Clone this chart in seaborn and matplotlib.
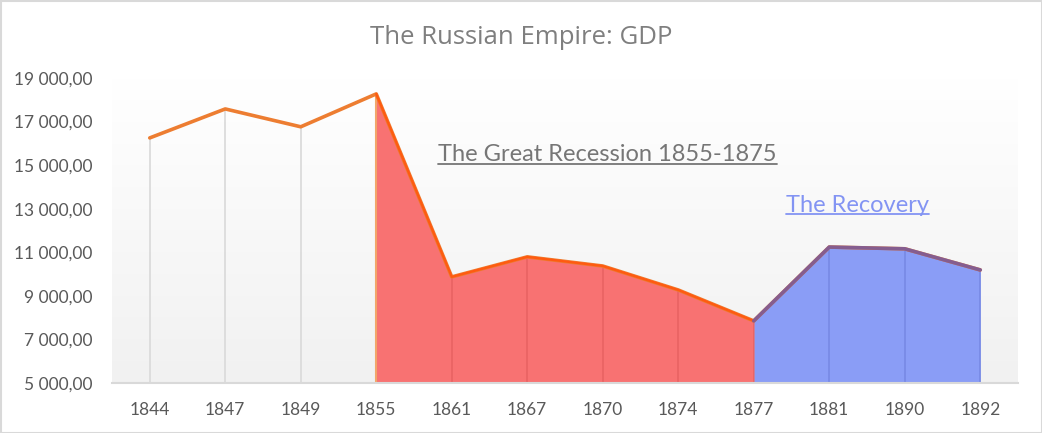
import numpy as np
import pandas as pd
import matplotlib
matplotlib.use("Agg")
import matplotlib.pyplot as plt
from matplotlib.colors import LinearSegmentedColormap
from matplotlib.lines import Line2D
from matplotlib.patches import Rectangle
import seaborn as sns

# ---- data ----
years = ["1844", "1847", "1849", "1855", "1861", "1867", "1870", "1874", "1877", "1881", "1890", "1892"]
gdp = [16250, 17580, 16760, 18270, 9870, 10790, 10370, 9270, 7850, 11240, 11160, 10190]
recession_span = ["1855", "1877"]
recovery_span = ["1877", "1892"]
y_ticks = [5000, 7000, 9000, 11000, 13000, 15000, 17000, 19000]
title = "The Russian Empire: GDP"
recession_label = "The Great Recession 1855-1875"
recovery_label = "The Recovery"

df = pd.DataFrame({"year": years, "gdp": gdp})
df["pos"] = np.arange(len(df))

sns.set_theme(style="white")
plt.rcParams["font.family"] = ["Lato", "DejaVu Sans"]

fig = plt.figure(figsize=(10.42, 4.33), dpi=100)
ax = fig.add_axes([112 / 1042, 1 - 383 / 433, (1018 - 112) / 1042, (383 - 78) / 433])

ymin, ymax = 5000, 19000
xmin, xmax = -0.5, len(years) - 0.5

# gradient background
cmap = LinearSegmentedColormap.from_list("bg", ["#ffffff", "#f1f1f1"])
grad = np.linspace(0, 1, 256)[:, None]
ax.imshow(grad, extent=[xmin, xmax, ymin, ymax], aspect="auto", cmap=cmap, zorder=0,
          origin="upper")

red_fill = "#f87272"
blue_fill = "#8a9df6"
orange = "#ed7d31"

def seg(span):
    i0, i1 = years.index(span[0]), years.index(span[1])
    return df.iloc[i0:i1 + 1]

rec = seg(recession_span)
recv = seg(recovery_span)

# drop lines
for _, r in df.iterrows():
    p = r["pos"]
    if p < rec["pos"].iloc[0]:
        c, a = "#d9d9d9", 1.0
    elif p <= rec["pos"].iloc[-1] and p > rec["pos"].iloc[0]:
        c, a = "#e05a5a", 0.6
    elif p == rec["pos"].iloc[0]:
        c, a = "#f2a66a", 1.0
    else:
        c, a = "#7284e0", 0.8
    ax.plot([p, p], [ymin, r["gdp"]], color=c, lw=1.2, alpha=a, zorder=2)

ax.fill_between(rec["pos"], ymin, rec["gdp"], color=red_fill, lw=0, zorder=1.5)
ax.fill_between(recv["pos"], ymin, recv["gdp"], color=blue_fill, lw=0, zorder=1.6)
ax.plot([rec["pos"].iloc[0]] * 2, [ymin, rec["gdp"].iloc[0]], color="#f2a66a", lw=1.5, zorder=2.5)

sns.lineplot(data=df, x="pos", y="gdp", color=orange, lw=2.6, ax=ax, zorder=3,
             sort=False, legend=False)
ax.plot(rec["pos"], rec["gdp"], color="#ff5a10", lw=1.6, zorder=3.2)
ax.plot(recv["pos"], recv["gdp"], color="#7a5a9a", lw=2.6, zorder=3.3, alpha=0.9)

ax.set_xlim(xmin, xmax)
ax.set_ylim(ymin, ymax)
ax.set_xticks(df["pos"])
ax.set_xticklabels(years)
ax.set_yticks(y_ticks)
ax.set_yticklabels([f"{v:,.2f}".replace(",", " ").replace(".", ",") for v in y_ticks])
ax.tick_params(axis="both", length=0, labelsize=12.5, labelcolor="#595959")
ax.tick_params(axis="y", pad=14)
ax.tick_params(axis="x", pad=14)
ax.set_xlabel("")
ax.set_ylabel("")
for s in ["top", "right", "left"]:
    ax.spines[s].set_visible(False)
ax.spines["bottom"].set_color("#d9d9d9")
ax.spines["bottom"].set_linewidth(1.5)
ax.spines["bottom"].set_zorder(4)
ax.set_facecolor("white")

fig.text(0.5, 1 - 38 / 433, title, ha="center", va="center", fontsize=18.5,
         color="#7f7f7f", family=["Open Sans", "DejaVu Sans"])

t1 = ax.text(6.06, 15466, recession_label, ha="center", va="center", fontsize=17,
             color="#767676", zorder=5)
t2 = ax.text(9.37, 13170, recovery_label, ha="center", va="center", fontsize=17,
             color="#8394f3", zorder=5)

fig.canvas.draw()
W, H = fig.bbox.width, fig.bbox.height
for t, col in [(t1, "#767676"), (t2, "#8394f3")]:
    bb = t.get_window_extent()
    yy = (bb.y0 + 1.5) / H
    fig.add_artist(Line2D([bb.x0 / W, bb.x1 / W], [yy, yy], color=col, lw=1.3,
                          transform=fig.transFigure))

fig.add_artist(Rectangle((0.5 / W, 0.5 / H), 1 - 1 / W, 1 - 1 / H, transform=fig.transFigure,
                         fill=False, edgecolor="#d9d9d9", lw=1.5))

fig.savefig("out.png", dpi=100)
